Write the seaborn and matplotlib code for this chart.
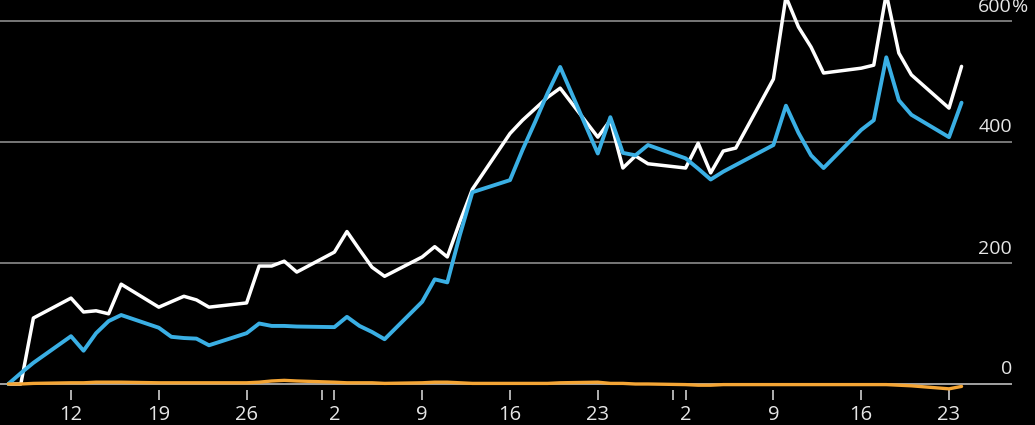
import matplotlib
matplotlib.use("Agg")
import matplotlib.pyplot as plt
import matplotlib.dates as mdates
import matplotlib.transforms as mtransforms
import seaborn as sns
import pandas as pd
import numpy as np

# ---------------- data ----------------
dates = [
    "2026-01-07", "2026-01-08", "2026-01-09", "2026-01-12", "2026-01-13", "2026-01-14",
    "2026-01-15", "2026-01-16", "2026-01-19", "2026-01-20", "2026-01-21", "2026-01-22",
    "2026-01-23", "2026-01-26", "2026-01-27", "2026-01-28", "2026-01-29", "2026-01-30",
    "2026-02-02", "2026-02-03", "2026-02-04", "2026-02-05", "2026-02-06", "2026-02-09",
    "2026-02-10", "2026-02-11", "2026-02-12", "2026-02-13", "2026-02-16", "2026-02-17",
    "2026-02-18", "2026-02-19", "2026-02-20", "2026-02-23", "2026-02-24", "2026-02-25",
    "2026-02-26", "2026-02-27", "2026-03-02", "2026-03-03", "2026-03-04", "2026-03-05",
    "2026-03-06", "2026-03-09", "2026-03-10", "2026-03-11", "2026-03-12", "2026-03-13",
    "2026-03-16", "2026-03-17", "2026-03-18", "2026-03-19", "2026-03-20", "2026-03-23",
    "2026-03-24",
]

white_series = [
    0, 0, 109, 142, 119, 121, 116, 165, 127, 136, 145, 139,
    127, 134, 195, 195, 203, 185,
    218, 252, 222, 193, 178, 210,
    227, 210, 268, 322, 414, 436,
    455, 474, 489, 408, 436, 357,
    377, 364, 357, 398, 349, 385,
    390, 504, 640, 590, 557, 514,
    522, 527, 645, 547, 511, 456,
    525,
]

blue_series = [
    0, 18, 35, 79, 55, 84, 104, 114, 93, 78, 76, 75,
    64, 84, 100, 96, 96, 95,
    94, 111, 96, 86, 74, 136,
    173, 168, 246, 317, 337, 387,
    433, 481, 524, 381, 441, 382,
    378, 395, 373, 356, 338, 351,
    362, 395, 460, 415, 378, 357,
    420, 436, 540, 469, 445, 408,
    465,
]

orange_series = [
    0, 0, 1, 2, 2, 3, 3, 3, 2, 2, 2, 2,
    2, 2, 3, 5, 6, 5,
    3, 2, 2, 2, 1, 2,
    3, 3, 2, 1, 1, 1,
    1, 1, 2, 3, 1, 1,
    0, 0, -1, -2, -2, -1,
    -1, -1, -1, -1, -1, -1,
    -1, -1, -1, -2, -3, -8,
    -4,
]

y_ticks = [0, 200, 400, 600]
y_tick_labels = ["0", "200", "400", "600"]

# ---------------- styling ----------------
sns.set_style("dark", {"axes.facecolor": "black", "figure.facecolor": "black"})
plt.rcParams["font.family"] = ["Open Sans", "DejaVu Sans"]

W, H = 1035, 425
fig = plt.figure(figsize=(W / 100, H / 100), dpi=100, facecolor="black")
px_per_unit = 0.605
zero_px = 384
ax_bottom_px = 389.5
ax_right_px = 1012
ax = fig.add_axes([0, 1 - ax_bottom_px / H, ax_right_px / W, ax_bottom_px / H])
ax.set_facecolor("black")

df = pd.DataFrame({
    "date": pd.to_datetime(dates),
    "white": white_series,
    "blue": blue_series,
    "orange": orange_series,
})

sns.lineplot(data=df, x="date", y="white", ax=ax, color="#ffffff", linewidth=2.5, zorder=3)
sns.lineplot(data=df, x="date", y="blue", ax=ax, color="#3aafe4", linewidth=2.8, zorder=4)
sns.lineplot(data=df, x="date", y="orange", ax=ax, color="#f4a535", linewidth=2.4, zorder=5)
ax.lines[-1].set_clip_on(False)

# limits
ax.set_ylim((zero_px - ax_bottom_px) / px_per_unit, zero_px / px_per_unit)
x0 = mdates.date2num(pd.Timestamp("2026-01-12")) - 71 / 12.543
x1 = mdates.date2num(pd.Timestamp("2026-01-12")) + (ax_right_px - 71) / 12.543
ax.set_xlim(x0, x1)

# grid lines
for v in y_ticks:
    ax.axhline(v, color="#bdbdbd" if v == 0 else "#8c8c8c", linewidth=1.2, zorder=1)
ax.grid(False)

# y ticks on right, labels above lines
ax.yaxis.tick_right()
ax.set_yticks(y_ticks)
ax.set_yticklabels(y_tick_labels)
ax.tick_params(axis="y", length=0, pad=0, labelsize=14, labelcolor="#e6e6e6")
offset = mtransforms.ScaledTranslation(0, 0.055, fig.dpi_scale_trans)
for lab in ax.get_yticklabels():
    lab.set_horizontalalignment("right")
    lab.set_verticalalignment("bottom")
    lab.set_transform(lab.get_transform() + offset)
ax.text(1.0, 600, "%", transform=mtransforms.blended_transform_factory(ax.transAxes, ax.transData) + offset,
        ha="left", va="bottom", fontsize=14, color="#e6e6e6", clip_on=False)

# x ticks
ax.xaxis.set_major_locator(mdates.WeekdayLocator(byweekday=mdates.MO))
ax.xaxis.set_major_formatter(plt.FuncFormatter(lambda x, p: str(mdates.num2date(x).day)))
ax.xaxis.set_minor_locator(mdates.MonthLocator(bymonthday=1))
ax.tick_params(axis="x", which="both", direction="out", length=7, width=1.2,
               color="#cfcfcf", pad=4.5, labelsize=14.5, labelcolor="#e6e6e6", bottom=True)
ax.set_xlabel("")
ax.set_ylabel("")
for s in ax.spines.values():
    s.set_visible(False)

fig.savefig("out.png", dpi=100, facecolor="black")
